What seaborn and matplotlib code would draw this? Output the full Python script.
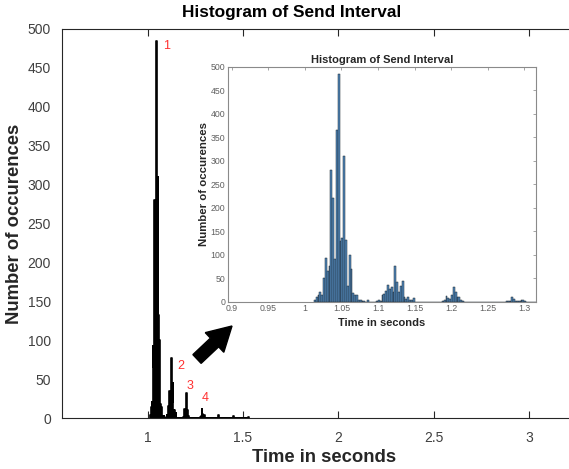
import numpy as np
import pandas as pd
import matplotlib
matplotlib.use("Agg")
import matplotlib.pyplot as plt
from matplotlib.patches import FancyArrow
import seaborn as sns

# ---- data: histogram bins (left edge, s) and counts ----
bin_left = [1.0125, 1.0150, 1.0175, 1.0200, 1.0225, 1.0250, 1.0275, 1.0300, 1.0325, 1.0350,
            1.0375, 1.0400, 1.0425, 1.0450, 1.0475, 1.0500, 1.0525, 1.0550, 1.0575, 1.0600,
            1.0625, 1.0650, 1.0675, 1.0700, 1.0725, 1.0750, 1.0775, 1.0800, 1.0850, 1.0975,
            1.1000, 1.1025, 1.1050, 1.1075, 1.1100, 1.1125, 1.1150, 1.1175, 1.1200, 1.1225,
            1.1250, 1.1275, 1.1300, 1.1325, 1.1350, 1.1375, 1.1400, 1.1425, 1.1450, 1.1475,
            1.1875, 1.1900, 1.1925, 1.1950, 1.1975, 1.2000, 1.2025, 1.2050, 1.2075, 1.2100,
            1.2125, 1.2150, 1.2750, 1.2775, 1.2800, 1.2825, 1.2850, 1.2875, 1.2900, 1.2925,
            1.2950, 1.2975, 1.3000, 1.3675, 1.3700, 1.3725, 1.4475, 1.4500, 1.5275]
counts = [4, 10, 14, 20, 14, 50, 92, 65, 75, 280,
          220, 90, 365, 485, 130, 135, 310, 132, 33, 100,
          70, 18, 15, 14, 4, 3, 2, 1, 3, 1,
          4, 1, 15, 16, 22, 35, 26, 32, 20, 77,
          42, 20, 33, 45, 10, 5, 10, 4, 3, 7,
          1, 3, 12, 8, 5, 14, 32, 20, 10, 10,
          3, 2, 1, 2, 2, 11, 5, 1, 2, 2,
          3, 4, 1, 2, 4, 1, 3, 2, 1]
bin_width = 0.0025

main_xticks = [1, 1.5, 2, 2.5, 3]
main_xticklabels = ["1", "1.5", "2", "2.5", "3"]
inset_xticks = [0.9, 0.95, 1.0, 1.05, 1.1, 1.15, 1.2, 1.25, 1.3]
inset_xticklabels = ["0.9", "0.95", "1", "1.05", "1.1", "1.15", "1.2", "1.25", "1.3"]
yticks = list(range(0, 501, 50))
peak_labels = ["1", "2", "3", "4"]

df = pd.DataFrame({"t": np.array(bin_left) + bin_width / 2, "n": counts})
hist_range = (1.0125, 1.53)

sns.set_style("white")
plt.rcParams["font.family"] = ["Liberation Sans", "DejaVu Sans"]

W, H = 569, 469
fig = plt.figure(figsize=(W / 100, H / 100), dpi=100)

def fx(px):
    return px / W

def fy(py):
    return (H - py) / H

# ---- main axes ----
ax = fig.add_axes([fx(62), fy(418), fx(586) - fx(62), fy(29) - fy(418)])
sns.histplot(data=df, x="t", weights="n", binwidth=bin_width, binrange=hist_range,
             element="step", fill=True, color="black", alpha=1, linewidth=1.2, ax=ax)
ax.set_xlim(0.55, 3.3)
ax.set_ylim(0, 500)
ax.set_xticks(main_xticks)
ax.set_xticklabels(main_xticklabels)
ax.set_yticks(yticks)
ax.tick_params(axis="x", direction="in", length=5, width=0.8, top=True, bottom=True,
               labelsize=10, labelcolor="#404040", color="#262626", pad=9)
ax.tick_params(axis="y", length=0, labelsize=10, labelcolor="#404040", pad=8)
for s in ["left", "bottom", "top"]:
    ax.spines[s].set_color("#262626")
    ax.spines[s].set_linewidth(0.8)
ax.spines["right"].set_visible(False)
ax.set_xlabel("Time in seconds", fontsize=13.3, fontweight="bold", color="#262626", labelpad=3)
ax.set_ylabel("Number of occurences", fontsize=13.3, fontweight="bold", color="#262626", labelpad=3)
fig.text(fx(292), fy(13), "Histogram of Send Interval", ha="center", va="center",
         fontsize=12.4, fontweight="bold", color="black")

# red peak markers
red = "#ff3030"
ax.text(1.08, 478, peak_labels[0], color=red, fontsize=9, va="center")
ax.text(1.155, 67, peak_labels[1], color=red, fontsize=9, va="center")
ax.text(1.205, 41, peak_labels[2], color=red, fontsize=9, va="center")
ax.text(1.285, 26, peak_labels[3], color=red, fontsize=9, va="center")

# ---- arrow ----
tail = (197, 359)
tip = (232, 326)
arr = FancyArrow(tail[0] / 100, (H - tail[1]) / 100,
                 (tip[0] - tail[0]) / 100, (tail[1] - tip[1]) / 100,
                 width=0.12, head_width=0.27, head_length=0.24,
                 length_includes_head=True, color="black",
                 transform=fig.dpi_scale_trans, zorder=10)
fig.patches.append(arr)

# ---- inset axes ----
ins = fig.add_axes([fx(228), fy(301.7), fx(536) - fx(228), fy(66.7) - fy(301.7)])
ins.set_facecolor("white")
sns.histplot(data=df, x="t", weights="n", binwidth=bin_width, binrange=hist_range,
             element="bars", fill=True, color="#5189bb", alpha=1,
             edgecolor="#1c2630", linewidth=0.35, ax=ins)
ins.set_xlim(0.895, 1.316)
ins.set_ylim(0, 500)
ins.set_xticks(inset_xticks)
ins.set_xticklabels(inset_xticklabels)
ins.set_yticks(yticks)
ins.tick_params(axis="both", direction="in", length=2.5, width=0.5, top=True, right=True,
                labelsize=6.3, labelcolor="#606060", color="#808080", pad=2)
for s in ins.spines.values():
    s.set_color("#8a8a8a")
    s.set_linewidth(0.8)
ins.set_xlabel("Time in seconds", fontsize=8, fontweight="bold", color="#262626", labelpad=3)
ins.set_ylabel("Number of occurences", fontsize=8.2, fontweight="bold", color="#262626", labelpad=1)
ins.set_title("Histogram of Send Interval", fontsize=8, fontweight="bold", color="#262626", pad=3)

fig.savefig("out.png", dpi=100)
